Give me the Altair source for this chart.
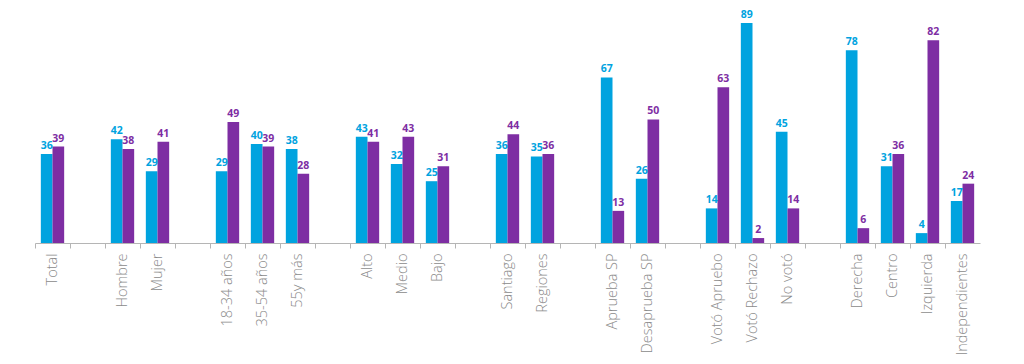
import altair as alt
import pandas as pd

categories = ["Total", "_1", "Hombre", "Mujer", "_2", "18-34 años", "35-54 años", "55y más", "_3",
              "Alto", "Medio", "Bajo", "_4", "Santiago", "Regiones", "_5", "Aprueba SP", "Desaprueba SP", "_6",
              "Votó Apruebo", "Votó Rechazo", "No votó", "_7", "Derecha", "Centro", "Izquierda", "Independientes"]
blue_vals = [36, None, 42, 29, None, 29, 40, 38, None, 43, 32, 25, None, 36, 35, None, 67, 26, None,
             14, 89, 45, None, 78, 31, 4, 17]
purple_vals = [39, None, 38, 41, None, 49, 39, 28, None, 41, 43, 31, None, 44, 36, None, 13, 50, None,
               63, 2, 14, None, 6, 36, 82, 24]
series = ["A", "B"]
colors = ["#00A3DF", "#7E2EA3"]

rows = []
for c, b, p in zip(categories, blue_vals, purple_vals):
    rows.append({"cat": c, "serie": "A", "val": b})
    rows.append({"cat": c, "serie": "B", "val": p})
df = pd.DataFrame(rows)

x = alt.X("cat:N", sort=categories, title=None,
          scale=alt.Scale(domain=categories, paddingInner=0, paddingOuter=0),
          axis=alt.Axis(labelAngle=-90, bandPosition=0,
                        labelExpr="indexof(datum.label, '_') == 0 ? '' : datum.label",
                        labelFont="Open Sans", labelFontSize=14.5, labelFontWeight=300,
                        labelColor="#8a8a8a",
                        labelPadding=5, tickSize=5, tickColor="#b5b5b5", domainColor="#b5b5b5",
                        labelLimit=200))
xo = alt.XOffset("serie:N", scale=alt.Scale(domain=series, paddingInner=0, paddingOuter=0.5))
y = alt.Y("val:Q", scale=alt.Scale(domain=[0, 89], nice=False), axis=None)
col = alt.Color("serie:N", scale=alt.Scale(domain=series, range=colors), legend=None)

base = alt.Chart(df).transform_filter("datum.val != null")
bars = base.mark_bar().encode(x=x, xOffset=xo, y=y, color=col)
labels = base.mark_text(baseline="bottom", dy=-3, font="Open Sans", fontSize=10.5, fontWeight="bold").encode(
    x=x, xOffset=xo, y=y, color=col, text="val:Q")

chart = (bars + labels).properties(
    width=945, height=220,
    autosize=alt.AutoSizeParams(type="none"),
    padding={"left": 27, "top": 15, "right": 20, "bottom": 120},
    background="white"
).configure_view(stroke=None)

chart.save("out.html", embed_options={"renderer": "svg", "actions": False})
